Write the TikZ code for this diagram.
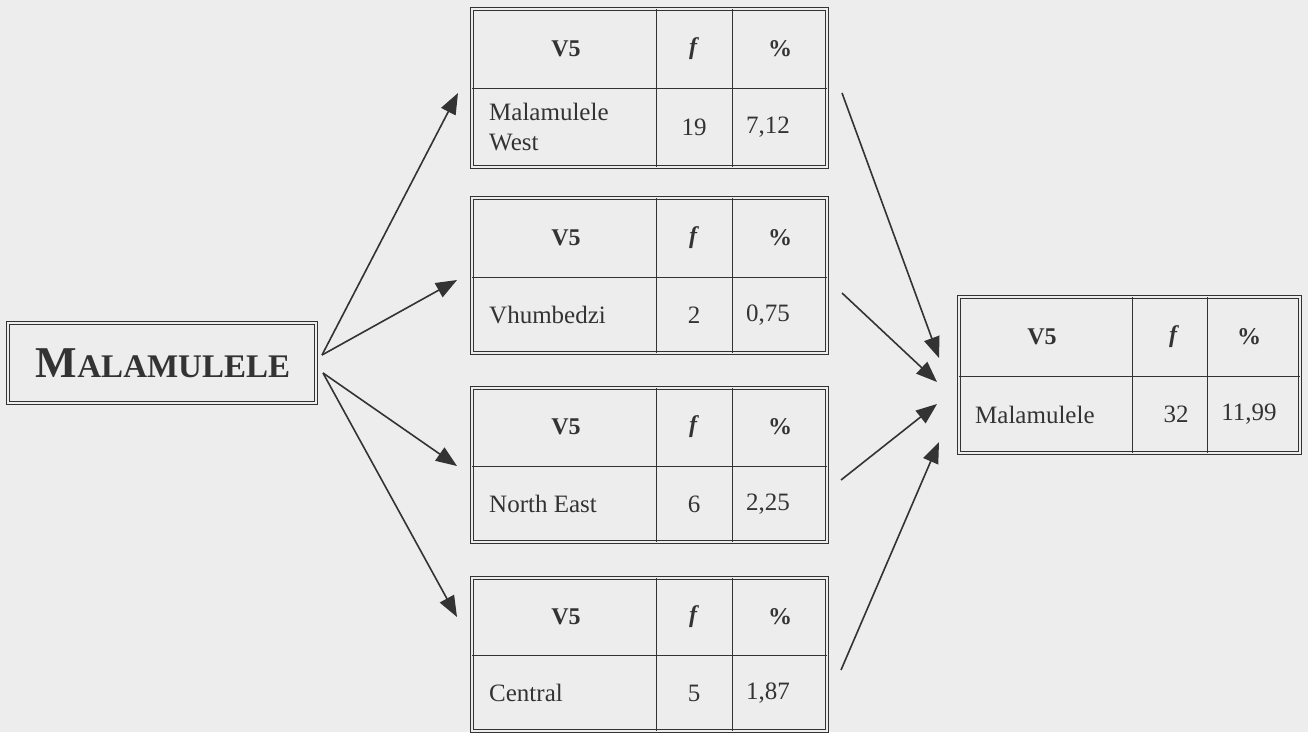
\documentclass[tikz,border=0pt]{standalone}
\usepackage{fontspec}
\setmainfont{Liberation Serif}
\usetikzlibrary{arrows.meta}
\definecolor{bg}{HTML}{EDEDED}
\definecolor{ink}{HTML}{333333}
\tikzset{
  frame/.style={draw=ink, double=bg, double distance=2.2pt, line width=0.8pt},
  gridline/.style={draw=ink, line width=1pt},
  conn/.style={draw=ink, line width=1.6pt, -{Triangle[length=21pt,width=16pt]}},
  cell/.style={text=ink, font=\fontsize{25}{30}\selectfont, inner sep=0pt, align=center},
  head/.style={cell, font=\fontsize{24}{29}\selectfont\bfseries},
  lab/.style={cell, anchor=west, align=left},
}
\newcommand{\midtab}[7]{%
  \draw[frame] (472,#2) rectangle (827,#4);
  \draw[gridline] (656,#2) -- (656,#4) (732,#2) -- (732,#4) (472,#3) -- (827,#3);
  \node[head] (#1-h1) at (566,{(#2+#3)/2}) {V5};
  \node[head] (#1-h2) at (693,{(#2+#3)/2}) {\itshape f};
  \node[head] (#1-h3) at (780,{(#2+#3)/2}) {\%};
  \node[lab]  (#1-l)  at (489,{(#3+#4)/2}) {#5};
  \node[cell] (#1-f)  at (694,{(#3+#4)/2}) {#6};
  \node[cell] (#1-p)  at (768,{(#3+#4)/2}) {#7};
}
\begin{document}
\begin{tikzpicture}[x=1pt,y=-1pt]
  \path[fill=bg] (0,0) rectangle (1308,732);
  \useasboundingbox (0,0) rectangle (1308,732);

  % left box
  \draw[frame] (8,323) rectangle (316,403);
  \node[text=ink, inner sep=0pt] (mal) at (163,363)
    {\bfseries\fontsize{44}{44}\selectfont M\fontsize{33}{33}\selectfont ALAMULELE};

  % middle tables
  \midtab{ta}{9}{88}{167}{Malamulele\\West}{19}{7,12}
  \midtab{tb}{198}{277}{353}{Vhumbedzi}{2}{0,75}
  \midtab{tc}{388}{466}{542}{North East}{6}{2,25}
  \midtab{td}{578}{655}{731}{Central}{5}{1,87}

  % right table
  \draw[frame] (959,297) rectangle (1300,453);
  \draw[gridline] (1132,297) -- (1132,453) (1207,297) -- (1207,453) (959,376) -- (1300,376);
  \node[head] (rt-h1) at (1042,336.5) {V5};
  \node[head] (rt-h2) at (1173,336.5) {\itshape f};
  \node[head] (rt-h3) at (1249,336.5) {\%};
  \node[lab]  (rt-l)  at (975,414.5) {Malamulele};
  \node[cell] (rt-f)  at (1176,414.5) {32};
  \node[cell] (rt-p)  at (1249,414.5) {11,99};

  % connector end points
  \coordinate (s1) at (322,355);
  \coordinate (s2) at (323,373);
  \coordinate (t1) at (458,93);
  \coordinate (t2) at (457,280);
  \coordinate (t3) at (457,466);
  \coordinate (t4) at (457,617);
  \coordinate (r1) at (842,93);
  \coordinate (r2) at (842,293);
  \coordinate (r3) at (841,480);
  \coordinate (r4) at (841,670);
  \coordinate (e1) at (939,358);
  \coordinate (e2) at (937,382);
  \coordinate (e3) at (937,404);
  \coordinate (e4) at (939,442);

  \draw[conn] (s1) -- (t1);
  \draw[conn] (s1) -- (t2);
  \draw[conn] (s2) -- (t3);
  \draw[conn] (s2) -- (t4);
  \draw[conn] (r1) -- (e1);
  \draw[conn] (r2) -- (e2);
  \draw[conn] (r3) -- (e3);
  \draw[conn] (r4) -- (e4);
\end{tikzpicture}
\end{document}
